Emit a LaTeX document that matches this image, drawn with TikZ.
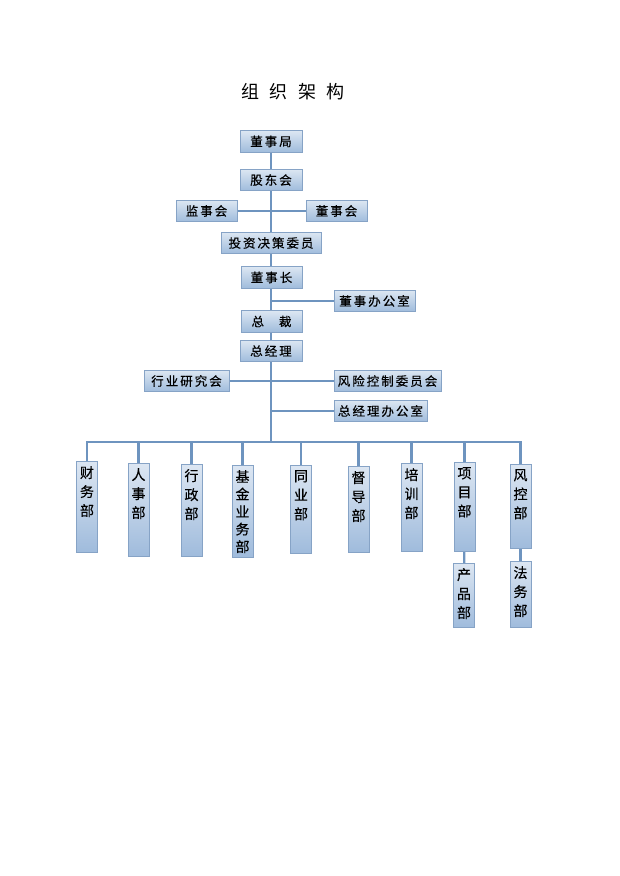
\documentclass[tikz,border=0pt]{standalone}
\usepackage{fontspec}
\setmainfont{Noto Sans CJK SC}
\newfontfamily\boxfont[LetterSpace=16,FakeBold=0.5]{Noto Sans CJK SC}
\newfontfamily\deptfont[FakeBold=0.4]{Noto Sans CJK SC}
\definecolor{boxtop}{HTML}{DCE6F2}
\definecolor{boxbot}{HTML}{9FBBDC}
\definecolor{boxline}{HTML}{86A3C6}
\definecolor{connline}{HTML}{6E94BF}
\begin{document}
\begin{tikzpicture}[x=1pt,y=-1pt,
    post/.style={draw=boxline,line width=1pt,top color=boxtop,bottom color=boxbot,
        inner sep=0pt,minimum height=21.5pt,font={\boxfont\fontsize{12.5}{14}\selectfont}},
    dept/.style={draw=boxline,line width=1pt,top color=boxtop,bottom color=boxbot,
        inner sep=0pt,minimum width=21pt,anchor=north},
    vtext/.style={anchor=north,align=center,inner sep=0pt,yshift=-5pt,
        font={\deptfont\fontsize{14}{19}\selectfont}},
    conn/.style={draw=connline,line width=2.3pt}]
    \useasboundingbox (0,0) rectangle (620,876);
    \node (title) at (293,92) {\fontsize{18}{20}\selectfont 组\hspace{6pt} 织\hspace{6pt} 架\hspace{6pt} 构};

    \node[post,minimum width=62pt] (dsj) at (271,141.5) {董事局};
    \node[post,minimum width=62pt] (gdh) at (271,180) {股东会};
    \node[post,minimum width=61pt] (jsh) at (206.5,211) {监事会};
    \node[post,minimum width=61pt] (dsh) at (336.5,211) {董事会};
    \node[post,minimum width=100pt] (tzjc) at (271,243) {投资决策委员};
    \node[post,minimum width=61pt] (dsz) at (271.5,277.5) {董事长};
    \node[post,minimum width=81pt] (dsbgs) at (374.5,301) {董事办公室};
    \node[post,minimum width=61pt] (zc) at (271.5,321.5) {总\hspace{10pt} 裁};
    \node[post,minimum width=62pt] (zjl) at (271,351) {总经理};
    \node[post,minimum width=85pt] (hyyj) at (186.5,381) {行业研究会};
    \node[post,minimum width=107pt] (fxkz) at (387.5,381) {风险控制委员会};
    \node[post,minimum width=93pt] (zjlbgs) at (380.5,411) {总经理办公室};

    \node[dept,minimum height=91pt,label={[vtext]north:财\\务\\部}] (caiwu) at (87,461) {};
    \node[dept,minimum height=93pt,label={[vtext]north:人\\事\\部}] (renshi) at (138.5,463) {};
    \node[dept,minimum height=92pt,label={[vtext]north:行\\政\\部}] (xingzheng) at (191.5,464) {};
    \node[dept,minimum height=92pt,label={[vtext,font={\deptfont\fontsize{14}{17.5}\selectfont}]north:基\\金\\业\\务\\部}] (jijin) at (242.5,465) {};
    \node[dept,minimum height=88pt,label={[vtext]north:同\\业\\部}] (tongye) at (301,465) {};
    \node[dept,minimum height=86pt,label={[vtext]north:督\\导\\部}] (dudao) at (358.5,466) {};
    \node[dept,minimum height=88pt,label={[vtext]north:培\\训\\部}] (peixun) at (411.5,463) {};
    \node[dept,minimum height=89pt,label={[vtext]north:项\\目\\部}] (xiangmu) at (464.5,462) {};
    \node[dept,minimum height=84pt,label={[vtext]north:风\\控\\部}] (fengkong) at (520.5,464) {};
    \node[dept,minimum height=64pt,label={[vtext]north:产\\品\\部}] (chanpin) at (464,563) {};
    \node[dept,minimum height=66pt,label={[vtext]north:法\\务\\部}] (fawu) at (520.5,561) {};

    \coordinate (trunk) at (271,0);
    \coordinate (bus) at (271,442);
    \draw[conn] (dsj) -- (gdh);
    \draw[conn] (gdh) -- (tzjc);
    \draw[conn] (jsh) -- (dsh);
    \draw[conn] (tzjc.south -| trunk) -- (dsz.north -| trunk);
    \draw[conn] (dsz.south -| trunk) -- (zc.north -| trunk);
    \draw[conn] (dsbgs.west) -- (dsbgs.west -| trunk);
    \draw[conn] (zc.south -| trunk) -- (zjl.north -| trunk);
    \draw[conn] (zjl.south) -- (zjl.south |- bus);
    \draw[conn] (hyyj) -- (fxkz);
    \draw[conn] (zjlbgs.west) -- (zjlbgs.west -| bus);
    \draw[conn] (caiwu.north) |- (bus) -| (fengkong.north);
    \draw[conn] (renshi.north) -- (renshi.north |- bus);
    \draw[conn] (xingzheng.north) -- (xingzheng.north |- bus);
    \draw[conn] (jijin.north) -- (jijin.north |- bus);
    \draw[conn] (tongye.north) -- (tongye.north |- bus);
    \draw[conn] (dudao.north) -- (dudao.north |- bus);
    \draw[conn] (peixun.north) -- (peixun.north |- bus);
    \draw[conn] (xiangmu.north) -- (xiangmu.north |- bus);
    \draw[conn] (xiangmu) -- (chanpin);
    \draw[conn] (fengkong) -- (fawu);
\end{tikzpicture}
\end{document}
